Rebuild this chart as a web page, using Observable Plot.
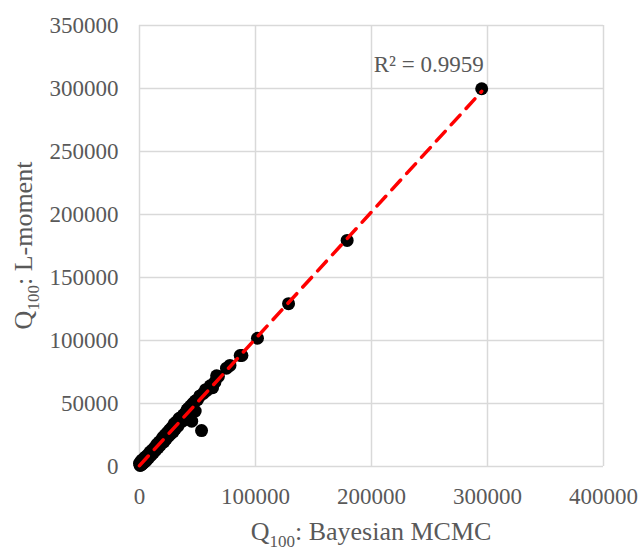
<!DOCTYPE html>
<html><head><meta charset="utf-8">
<script src="https://cdn.jsdelivr.net/npm/d3@7"></script>
<script src="https://cdn.jsdelivr.net/npm/@observablehq/plot@0.6"></script>
<style>body{margin:0;background:#fff;}</style>
</head><body><div id="chart"></div>
<script>
// Q100 estimates (x: Bayesian MCMC, y: L-moment)
const bayesMCMC = [0,500,1000,1500,2000,2500,3000,3500,4000,5000,5000,6000,7000,8000,9000,10000,11000,12000,13000,14000,15000,16000,17000,18000,19000,20000,21000,22000,23000,24000,25000,26000,27000,28000,29000,30000,31000,32000,33000,34000,35000,36000,37000,38000,39000,40000,41000,42000,43000,44000,45000,46000,48000,48000,50000,52000,53500,55000,57000,58000,61000,63000,65000,66500,68000,75000,78000,86800,88300,101700,128500,179000,295000];
const lMoment  = [2500,800,3500,1200,5000,2000,4500,3000,6500,4000,7500,5000,9000,7000,11500,9000,13000,11000,15000,13000,17500,15000,19500,17000,21000,23000,19500,25000,22000,27000,24000,29000,26000,31000,27500,34000,30000,35500,32000,38000,35000,39000,36000,41000,38500,43000,45000,46000,41000,48000,36000,50000,44000,52000,53000,56000,28500,58000,61000,60300,64000,62500,66900,72000,71500,78000,80200,88100,88100,101800,129200,179400,299800];
const xTicks = [0,100000,200000,300000,400000];
const yTicks = [0,50000,100000,150000,200000,250000,300000,350000];
const r2Label = "R² = 0.9959";
const xTitle = ["Q","100",": Bayesian MCMC"];
const yTitle = ["Q","100",": L-moment"];

const data = bayesMCMC.map((x,i)=>({x, y:lMoment[i]}));
const maxPoint = data.reduce((a,b)=> b.x>a.x?b:a);
const font = "'Liberation Serif','Times New Roman',serif";
const grey = "#595959";

const chart = Plot.plot({
  width:640, height:550,
  marginLeft:139, marginRight:37, marginTop:25, marginBottom:84,
  style:{fontFamily:font, fontSize:"23px", color:grey, background:"#fff"},
  x:{domain:[0,400000]},
  y:{domain:[0,350000]},
  marks:[
    Plot.gridX(xTicks,{stroke:"#d9d9d9", strokeOpacity:1, strokeWidth:1.5}),
    Plot.gridY(yTicks,{stroke:"#d9d9d9", strokeOpacity:1, strokeWidth:1.5}),
    Plot.axisX({ticks:xTicks, tickSize:0, tickPadding:21, tickFormat:d=>String(d), label:null, fontSize:23, fill:grey}),
    Plot.axisY({ticks:yTicks, tickSize:0, tickPadding:21, tickFormat:d=>String(d), label:null, fontSize:23, fill:grey}),
    Plot.dot(data,{x:"x", y:"y", r:6.5, fill:"black"}),
    Plot.linearRegressionY(data,{x:"x", y:"y", stroke:"red", strokeWidth:3.5, strokeDasharray:"13,9", ci:0}),
    Plot.text([maxPoint],{x:"x", y:"y", text:()=>r2Label, dx:-53, dy:-24, fontSize:23, fill:grey})
  ]
});

const svg = d3.select(chart);
function title(sel, parts){
  sel.attr("font-family", font).attr("font-size", 26).attr("fill", grey).attr("text-anchor","middle");
  sel.append("tspan").text(parts[0]);
  sel.append("tspan").attr("font-size",17).attr("dy",7).text(parts[1]);
  sel.append("tspan").attr("dy",-7).text(parts[2]);
}
svg.append("text").attr("x",371).attr("y",540).call(title, xTitle);
svg.append("text").attr("transform","translate(32,245.5) rotate(-90)").call(title, yTitle);

document.getElementById("chart").appendChild(chart);
</script>
</body></html>
